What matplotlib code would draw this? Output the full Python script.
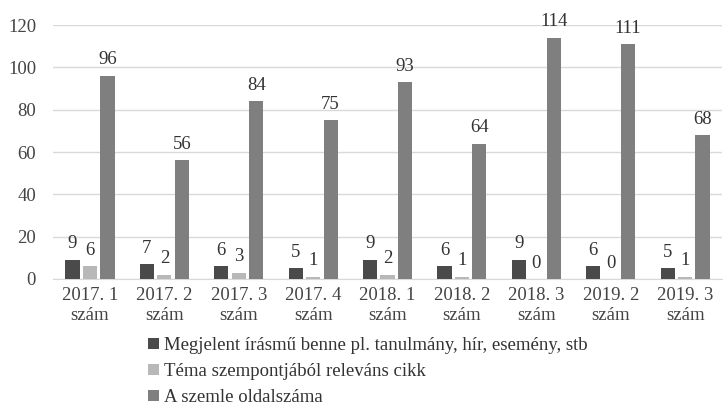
import numpy as np
import matplotlib
matplotlib.use("Agg")
import matplotlib.pyplot as plt

plt.rcParams['font.family'] = ['Liberation Serif', 'DejaVu Serif']

categories = ["2017. 1\nszám", "2017. 2\nszám", "2017. 3\nszám", "2017. 4\nszám",
              "2018. 1\nszám", "2018. 2\nszám", "2018. 3\nszám", "2019. 2\nszám",
              "2019. 3\nszám"]
series_names = ["Megjelent írásmű benne pl. tanulmány, hír, esemény, stb",
                "Téma szempontjából releváns cikk",
                "A szemle oldalszáma"]
irasmu = [9, 7, 6, 5, 9, 6, 9, 6, 5]
relevans = [6, 2, 3, 1, 2, 1, 0, 0, 1]
oldalszam = [96, 56, 84, 75, 93, 64, 114, 111, 68]
colors = ["#4a4a4a", "#b8b8b8", "#7f7f7f"]

fig = plt.figure(figsize=(7.23, 4.12), dpi=100)
ax = fig.add_axes([0.073, 0.323, 0.926, 0.616])

x = np.arange(len(categories))
width = 0.19
step = 0.235
for i, (vals, name) in enumerate(zip([irasmu, relevans, oldalszam], series_names)):
    pos = x + (i - 1) * step
    bars = ax.bar(pos, vals, width, color=colors[i], label=name, zorder=3)
    for b, v in zip(bars, vals):
        ax.text(b.get_x() + b.get_width() / 2, b.get_height() + 3.5, str(v),
                ha='center', va='bottom', fontsize=13.5, color='#333333')

ax.set_xlim(-0.5, len(categories) - 0.5)
ax.set_ylim(0, 120)
ax.set_yticks(range(0, 121, 20))
ax.set_xticks(x)
ax.set_xticklabels(categories, fontsize=13.5, color='#444444', linespacing=1.2)
ax.tick_params(axis='y', labelsize=13.5, labelcolor='#444444', length=0, pad=12)
ax.tick_params(axis='x', length=0, pad=6)
ax.grid(axis='y', color='#d9d9d9', linewidth=1, zorder=0)
for s in ['top', 'right', 'left']:
    ax.spines[s].set_visible(False)
ax.spines['bottom'].set_color('#d9d9d9')

handles, labels = ax.get_legend_handles_labels()
fig.legend(handles, labels, loc='upper left', bbox_to_anchor=(0.205, 0.182),
           ncol=1, frameon=False, fontsize=13.5, handlelength=0.55, handleheight=0.55,
           handletextpad=0.3, labelspacing=0.48, borderaxespad=0, borderpad=0,
           labelcolor='#333333')

fig.savefig("out.png", dpi=100)
